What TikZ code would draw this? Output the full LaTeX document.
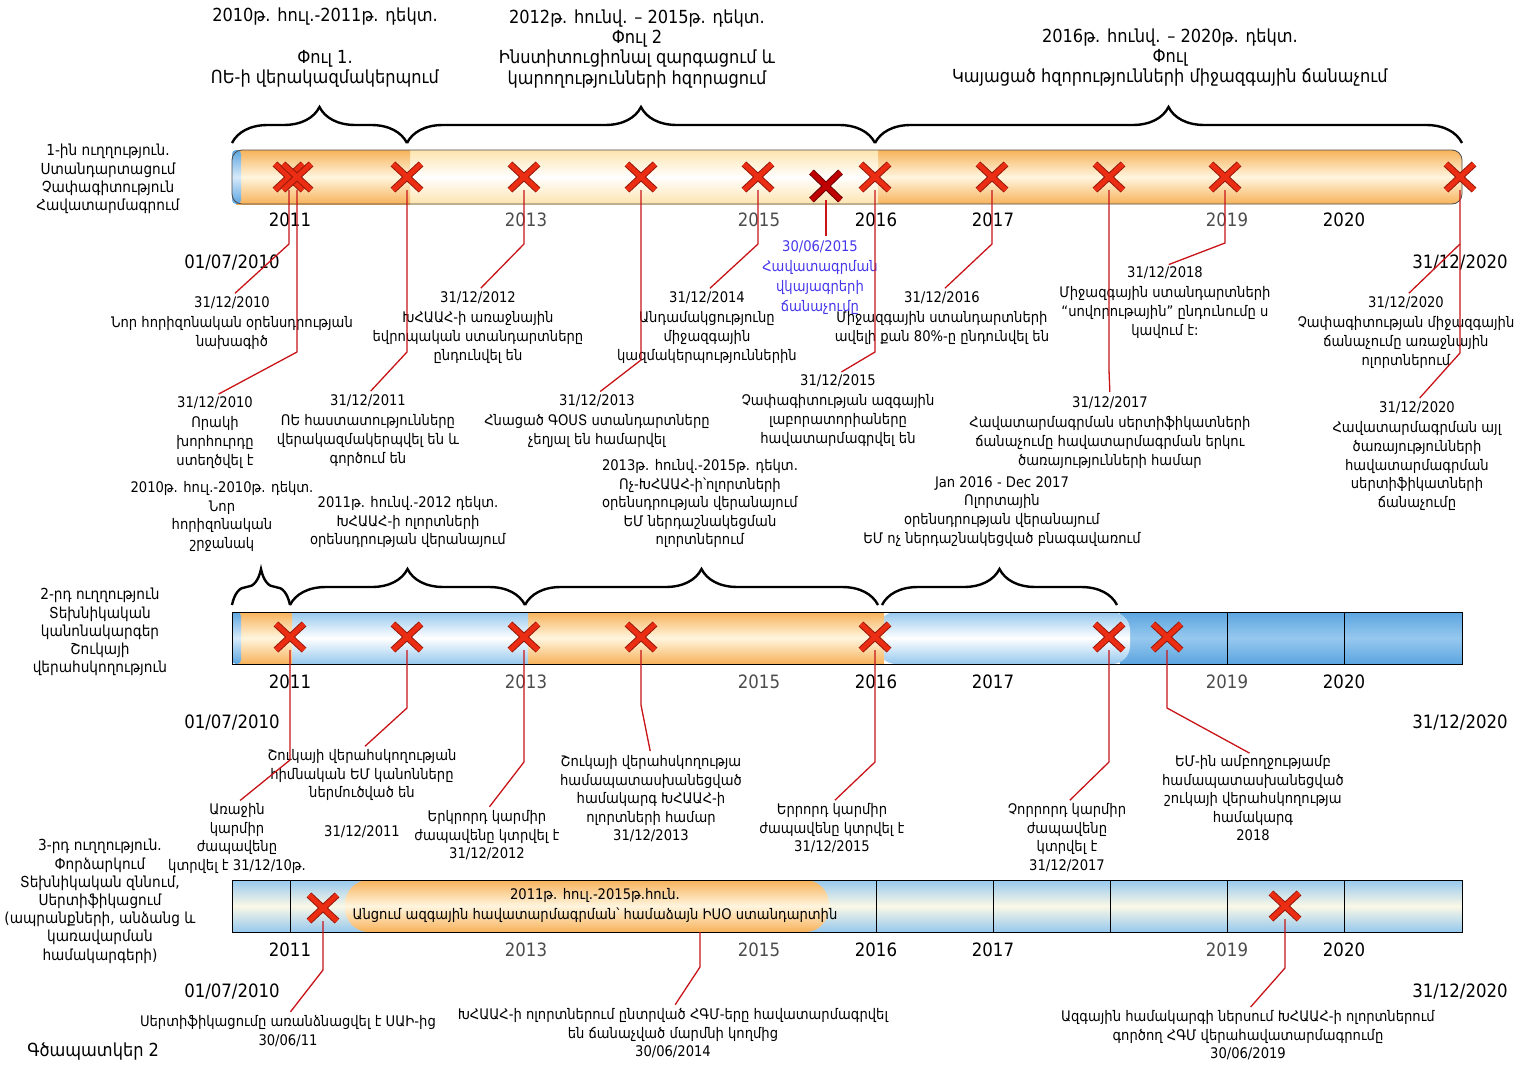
\documentclass[tikz,border=0pt]{standalone}
\usepackage{fontspec}
\setmainfont{DejaVu Sans Condensed}
\usetikzlibrary{shapes.misc,decorations.pathreplacing}

\definecolor{xred}{RGB}{235,45,20}
\definecolor{xdark}{RGB}{150,25,10}
\definecolor{lnred}{RGB}{200,20,25}
\definecolor{ora}{RGB}{247,178,90}
\definecolor{orl}{RGB}{255,245,222}
\definecolor{crm}{RGB}{253,228,175}
\definecolor{blu}{RGB}{92,165,224}
\definecolor{bmid}{RGB}{150,200,238}
\definecolor{bll}{RGB}{214,234,250}
\definecolor{cel}{RGB}{250,248,230}
\definecolor{bltxt}{RGB}{70,55,235}

\newcommand{\smallfnt}{\fontsize{7.3}{9.3}\selectfont}
\newcommand{\headfnt}{\fontsize{9}{10.2}\selectfont}
\newcommand{\datefnt}{\fontsize{9.2}{11}\selectfont}

\tikzstyle{xcross}=[cross out,draw=xdark,double=xred,double distance=2.4pt,line width=0.5pt,minimum width=13.5pt,minimum height=12.5pt,inner sep=0pt]
\tikzstyle{lnk}=[draw=lnred,line width=0.65pt,shorten >=2pt]
\tikzstyle{txt}=[align=center,inner sep=0pt,anchor=north,font=\smallfnt]
\tikzstyle{head}=[align=center,inner sep=0pt,anchor=north,font=\headfnt]
\tikzstyle{bigdate}=[inner sep=0pt,font=\datefnt]
\tikzstyle{brc}=[decorate,decoration={brace,amplitude=18pt},line width=1.2pt]
\tikzstyle{orshade}=[top color=ora,bottom color=ora,middle color=orl]
\tikzstyle{blshade}=[top color=blu,bottom color=blu,middle color=bll]

\begin{document}
\begin{tikzpicture}[x=0.5pt,y=-0.5pt]
  \useasboundingbox (0,0) rectangle (1522,1066);

  % headers
  \node[head] (h1a) at (325,7) {2010թ. հուլ.-2011թ. դեկտ.};
  \node[head] (h1b) at (325,50) {Փուլ 1.\\ՈԵ-ի վերակազմակերպում};
  \node[head] (h2) at (637,9) {2012թ. հունվ. – 2015թ. դեկտ.\\Փուլ 2\\Ինստիտուցիոնալ զարգացում և\\կարողությունների  հզորացում};
  \node[head] (h3) at (1170,28) {2016թ. հունվ. – 2020թ. դեկտ.\\Փուլ\\Կայացած հզորությունների միջազգային ճանաչում};

  \draw[brc] (232,143) -- (407,143);
  \draw[brc] (407,143) -- (875,143);
  \draw[brc] (875,143) -- (1462,143);

  % direction labels
  \node[txt,font=\fontsize{7.6}{9.1}\selectfont] (L1) at (108,144) {1-ին ուղղություն.\\Ստանդարտացում\\Չափագիտություն\\Հավատարմագրում};
  \node[txt,font=\fontsize{7.6}{9.1}\selectfont] (L2) at (100,588) {2-րդ ուղղություն\\Տեխնիկական\\կանոնակարգեր\\Շուկայի\\վերահսկողություն};
  \node[txt,font=\fontsize{7.6}{9.1}\selectfont] (L3) at (100,839) {3-րդ ուղղություն.\\Փորձարկում\\Տեխնիկական զննում,\\Սերտիֆիկացում\\(ապրանքների, անձանց և\\կառավարման\\համակարգերի)};

  % first bar
  \shade[orshade,rounded corners=5pt] (870,150) rectangle (1462,204);
  \shade[top color=crm,bottom color=crm,middle color=white] (407,150) rectangle (878,204);
  \shade[orshade] (236,150) rectangle (410,204);
  \shade[blshade,rounded corners=2pt] (232,150) rectangle (241,204);
  \draw[black!70,line width=0.4pt,rounded corners=5pt] (232,150) rectangle (1462,204);

  % second bar
  \shade[top color=blu,bottom color=blu,middle color=bmid] (1120,612) rectangle (1462,664);
  \shade[top color=bmid,bottom color=bmid,middle color=white,rounded corners=9pt] (878,612) rectangle (1130,664);
  \shade[orshade] (525,612) rectangle (884,664);
  \shade[top color=bmid,bottom color=bmid,middle color=white] (290,612) rectangle (528,664);
  \shade[orshade] (236,612) rectangle (292,664);
  \shade[blshade,rounded corners=2pt] (232,612) rectangle (241,664);
  \draw[black,line width=0.4pt] (232,612) rectangle (1462,664);
  \foreach \xx in {1227,1344}
    \draw[black,line width=0.4pt] (\xx,612) -- (\xx,664);

  % third bar
  \shade[top color=bmid,bottom color=bmid,middle color=cel] (232,880) rectangle (1462,932);
  \node[orshade,rounded corners=12pt,minimum width=242pt,minimum height=26pt,inner sep=0pt] (seg3) at (587,906) {};
  \draw[black,line width=0.4pt] (232,880) rectangle (1462,932);
  \foreach \xx in {290,876,993,1110,1227,1344}
    \draw[black,line width=0.4pt] (\xx,880) -- (\xx,932);
  \node[align=center,inner sep=0pt,font=\fontsize{7.3}{10}\selectfont] (tx3) at (595,905) {2011թ. հուլ.-2015թ.հուն.\\Անցում ազգային հավատարմագրման՝ համաձայն ԻՍՕ ստանդարտին};
  \coordinate (s3) at (700,932);

  % years and end dates
  \foreach \yv/\yr/\xx/\cl in {a/2011/290/black,b/2013/526/black!70,c/2015/759/black!70,d/2016/876/black,e/2017/993/black,f/2019/1227/black!70,g/2020/1344/black}{
    \node[bigdate,text=\cl] (y1\yv) at (\xx,220) {\yr};
    \node[bigdate,text=\cl] (y2\yv) at (\xx,682) {\yr};
    \node[bigdate,text=\cl] (y3\yv) at (\xx,950) {\yr};
  }
  \foreach \nr/\yy in {1/263,2/723,3/992}{
    \node[bigdate] (st\nr) at (232,\yy) {01/07/2010};
    \node[bigdate] (en\nr) at (1460,\yy) {31/12/2020};
  }

  % markers
  \foreach \nm/\xx in {a/289,b/297,c/407,d/524,e/641,f/758,h/875,i/992,j/1109,k/1225,l/1460}
    \node[xcross] (m1\nm) at (\xx,177) {};
  \node[xcross,draw=black!60!red,double=red!75!black,minimum width=14pt,minimum height=13.5pt] (m1g) at (826,186) {};
  \foreach \nm/\xx in {a/290,b/407,c/524,d/641,e/875,f/1109,g/1167}
    \node[xcross] (m2\nm) at (\xx,637) {};
  \node[xcross] (m3a) at (323,908) {};
  \node[xcross] (m3b) at (1285,906) {};

  % milestones, first direction
  \node[txt] (t1a) at (232,296) {31/12/2010\\[1pt]Նոր հորիզոնական օրենսդրության\\նախագիծ};
  \node[txt] (t1b) at (215,396) {31/12/2010\\[1pt]Որակի\\խորհուրդը\\ստեղծվել է};
  \node[txt] (t1c) at (368,394) {31/12/2011\\[1pt]ՈԵ   հաստատությունները\\վերակազմակերպվել են և\\գործում են};
  \node[txt] (t1d) at (478,291) {31/12/2012\\[1pt]ԽՀԱԱՀ-ի  առաջնային\\եվրոպական ստանդարտները\\ընդունվել են};
  \node[txt] (t1e) at (597,394) {31/12/2013\\[1pt]Հնացած ԳՕՍՏ ստանդարտները\\չեղյալ են համարվել};
  \node[txt] (t1f) at (707,291) {31/12/2014\\[1pt]Անդամակցությունը\\միջազգային\\կազմակերպություններին};
  \node[txt,text=bltxt,font=\fontsize{7.3}{10}\selectfont] (t1g) at (820,240) {30/06/2015\\Հավատագրման\\վկայագրերի\\ճանաչումը};
  \node[txt] (t1h) at (838,374) {31/12/2015\\[1pt]Չափագիտության ազգային\\լաբորատորիաները\\հավատարմագրվել են};
  \node[txt] (t1i) at (942,291) {31/12/2016\\[1pt]Միջազգային ստանդարտների\\ավելի քան 80\%-ը ընդունվել են};
  \node[txt] (t1j) at (1110,396) {31/12/2017\\[1pt]Հավատարմագրման սերտիֆիկատների\\ճանաչումը  հավատարմագրման երկու\\ծառայությունների համար};
  \node[txt] (t1k) at (1165,266) {31/12/2018\\[1pt]Միջազգային ստանդարտների\\“սովորութային” ընդունումը ս\\կավում է:};
  \node[txt] (t1l) at (1406,296) {31/12/2020\\[1pt]Չափագիտության միջազգային\\ճանաչումը առաջնային\\ոլորտներում};
  \node[txt] (t1m) at (1417,401) {31/12/2020\\[1pt]Հավատարմագրման այլ\\ծառայությունների\\հավատարմագրման\\սերտիֆիկատների\\ճանաչումը};

  \draw[lnk] (m1a.south) -- (289,244) -- (t1a.north);
  \draw[lnk] (m1b.south) -- (297,352) -- (t1b.north);
  \draw[lnk] (m1c.south) -- (407,352) -- (t1c.north);
  \draw[lnk] (m1d.south) -- (524,244) -- (t1d.north);
  \draw[lnk] (m1e.south) -- (641,360) -- (t1e.north);
  \draw[lnk] (m1f.south) -- (758,244) -- (t1f.north);
  \draw[lnk] (m1g.south) -- (t1g.north -| m1g);
  \draw[lnk] (m1h.south) -- (875,352) -- (t1h.north);
  \draw[lnk] (m1i.south) -- (992,244) -- (t1i.north);
  \draw[lnk] (m1j.south) -- (1109,370) -- (t1j.north);
  \draw[lnk] (m1k.south) -- (1225,243) -- (t1k.north);
  \draw[lnk] (m1l.south) -- (1460,244) -- (t1l.north);
  \draw[lnk] (1460,244) -- (1460,353) -- (t1m.north);

  % second direction
  \draw[brc] (232,605) -- (290,605);
  \draw[brc] (290,605) -- (525,605);
  \draw[brc] (525,605) -- (878,605);
  \draw[brc] (882,605) -- (1117,605);
  \node[txt] (b2a) at (222,481) {2010թ. հուլ.-2010թ. դեկտ.\\Նոր\\հորիզոնական\\շրջանակ};
  \node[txt] (b2b) at (408,496) {2011թ. հունվ.-2012  դեկտ.\\ԽՀԱԱՀ-ի ոլորտների\\օրենսդրության վերանայում};
  \node[txt] (b2c) at (700,459) {2013թ. հունվ.-2015թ. դեկտ.\\Ոչ-ԽՀԱԱՀ-ի՝ոլորտների\\օրենսդրության  վերանայում\\ԵՄ ներդաշնակեցման\\ոլորտներում};
  \node[txt] (b2d) at (1002,476) {Jan 2016 - Dec 2017\\Ոլորտային\\օրենսդրության վերանայում\\ԵՄ ոչ ներդաշնակեցված բնագավառում};

  \node[txt] (t2a) at (237,803) {Առաջին\\կարմիր\\ժապավենը\\կտրվել է 31/12/10թ.};
  \node[txt] (t2b) at (362,749) {Շուկայի վերահսկողության\\հիմնական ԵՄ կանոնները\\ներմուծված են};
  \node[txt] (t2c) at (362,825) {31/12/2011};
  \node[txt] (t2d) at (487,810) {Երկրորդ կարմիր\\ժապավենը կտրվել է\\31/12/2012};
  \node[txt] (t2e) at (651,755) {Շուկայի վերահսկողությա\\համապատասխանեցված\\համակարգ  ԽՀԱԱՀ-ի\\ոլորտների  համար\\31/12/2013};
  \node[txt] (t2f) at (832,803) {Երրորդ կարմիր\\ժապավենը կտրվել է\\31/12/2015};
  \node[txt] (t2g) at (1067,803) {Չորրորդ կարմիր\\ժապավենը\\կտրվել է\\31/12/2017};
  \node[txt] (t2h) at (1253,755) {ԵՄ-ին ամբողջությամբ\\համապատասխանեցված\\շուկայի վերահսկողությա\\համակարգ\\2018};

  \draw[lnk] (m2a.south) -- (290,760) -- (t2a.north);
  \draw[lnk] (m2b.south) -- (407,708) -- (t2b.north);
  \draw[lnk] (m2c.south) -- (524,762) -- (t2d.north);
  \draw[lnk] (m2d.south) -- (641,705) -- (t2e.north);
  \draw[lnk] (m2e.south) -- (875,762) -- (t2f.north);
  \draw[lnk] (m2f.south) -- (1109,762) -- (t2g.north);
  \draw[lnk] (m2g.south) -- (1167,708) -- (t2h.north);

  % third direction
  \node[txt] (t3a) at (288,1015) {Սերտիֆիկացումը առանձնացվել է ՍԱԻ-ից\\30/06/11};
  \node[txt] (t3b) at (673,1008) {ԽՀԱԱՀ-ի ոլորտներում ընտրված ՀԳՄ-երը հավատարմագրվել\\են ճանաչված մարմնի կողմից\\30/06/2014};
  \node[txt] (t3c) at (1248,1010) {Ազգային համակարգի ներսում ԽՀԱԱՀ-ի ոլորտներում\\գործող ՀԳՄ վերահավատարմագրումը\\30/06/2019};

  \draw[lnk] (m3a.south) -- (323,970) -- (t3a.north);
  \draw[lnk] (s3) -- (700,967) -- (t3b.north);
  \draw[lnk] (m3b.south) -- (1285,968) -- (t3c.north);

  \node[anchor=west,inner sep=0pt,font=\fontsize{9}{11}\selectfont] (cap) at (27,1052) {Գծապատկեր 2};
\end{tikzpicture}
\end{document}
